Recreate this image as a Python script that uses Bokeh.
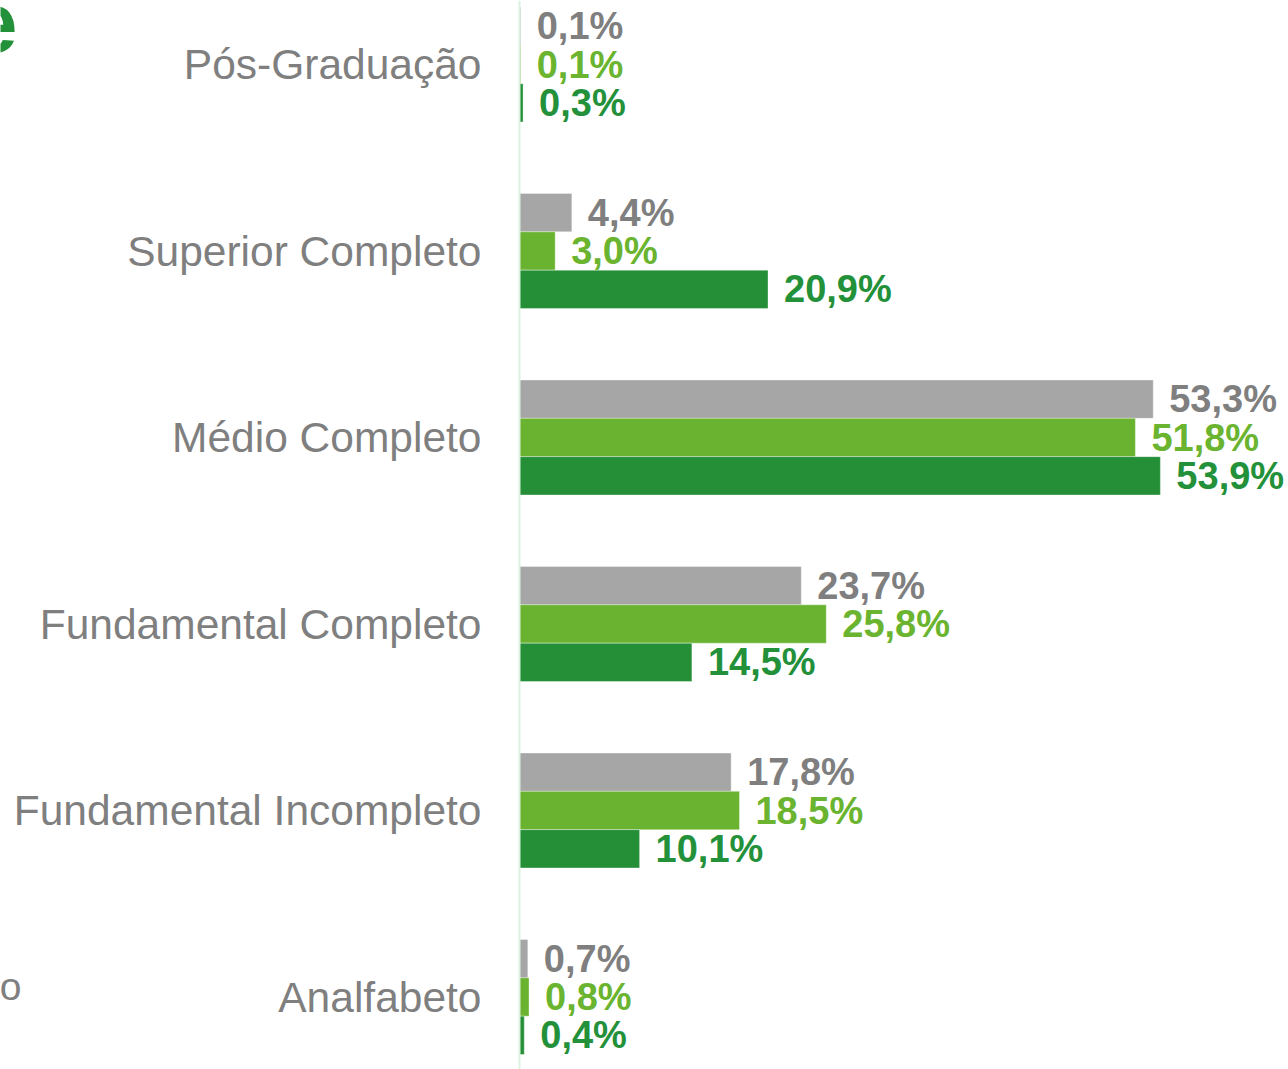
from bokeh.plotting import figure
from bokeh.models import ColumnDataSource, Range1d, Span
from bokeh.core.properties import value
from bokeh.embed import file_html
from bokeh.resources import INLINE

# ---- data ----
categories = ["Analfabeto", "Fundamental Incompleto", "Fundamental Completo",
              "Médio Completo", "Superior Completo", "Pós-Graduação"]
serie_cinza = [0.7, 17.8, 23.7, 53.3, 4.4, 0.1]
serie_verde_claro = [0.8, 18.5, 25.8, 51.8, 3.0, 0.1]
serie_verde_escuro = [0.4, 10.1, 14.5, 53.9, 20.9, 0.3]

series = [
    (serie_cinza, "#a6a6a6", "#7f7f7f", 0.2055),
    (serie_verde_claro, "#6ab330", "#6ab42f", 0.0),
    (serie_verde_escuro, "#258f38", "#23903a", -0.2055),
]

def fmt(v):
    return f"{v:.1f}".replace(".", ",") + "%"

W, H = 1287, 1069
ox, oy = 1, 0  # where the frame lands on the screenshot
px_per_unit_x = 11.89
axis_px = 520 - ox
xmin = -axis_px / px_per_unit_x
xmax = (W - axis_px) / px_per_unit_x
px_per_cat = 186.5
ymax = 5 + (64 - oy) / px_per_cat
ymin = ymax - H / px_per_cat

def dx(px):
    return (px - 520) / px_per_unit_x

def dy(py):
    return ymax - (py - oy) / px_per_cat

p = figure(width=W, height=H, output_backend="svg", toolbar_location=None,
           x_axis_type=None, y_axis_type=None,
           x_range=Range1d(xmin, xmax), y_range=Range1d(ymin, ymax),
           min_border=0, min_border_left=0, min_border_right=0,
           min_border_top=0, min_border_bottom=0)
p.outline_line_color = None
p.xgrid.visible = False
p.ygrid.visible = False
p.background_fill_color = "white"

# vertical axis line
p.add_layout(Span(location=0, dimension="height", line_color="#dcf1de", line_width=2))

idx = list(range(len(categories)))
for vals, bar_col, txt_col, off in series:
    src = ColumnDataSource(dict(
        y=[i + off for i in idx], right=vals, left=[0] * len(vals),
        label=[fmt(v) for v in vals]))
    p.hbar(y="y", left="left", right="right", height=0.2055, source=src,
           fill_color=bar_col, line_color="#ffffff", line_alpha=0.35, line_width=1)
    p.text(x="right", y="y", text="label", source=src, x_offset=16,
           text_align="left", text_baseline="middle",
           text_font=value("Liberation Sans"), text_font_style="bold",
           text_font_size="38px", text_color=txt_col)

cat_src = ColumnDataSource(dict(x=[0] * len(categories), y=idx, text=categories))
p.text(x="x", y="y", text="text", source=cat_src, x_offset=-38,
       text_align="right", text_baseline="middle",
       text_font=value("Liberation Sans"), text_font_size="42.5px",
       text_color="#7f7f7f")

# cropped fragments of surrounding slide text
p.text(x=[dx(18)], y=[dy(22)], text=["e"],
       text_align="right", text_baseline="middle",
       text_font=value("Liberation Sans"), text_font_style="bold",
       text_font_size="86px", text_color="#23903a")
p.text(x=[dx(22)], y=[dy(986)], text=["ão"],
       text_align="right", text_baseline="middle",
       text_font=value("Liberation Sans"), text_font_size="39px",
       text_color="#7f7f7f")

open("out.html", "w").write(file_html(p, INLINE))
